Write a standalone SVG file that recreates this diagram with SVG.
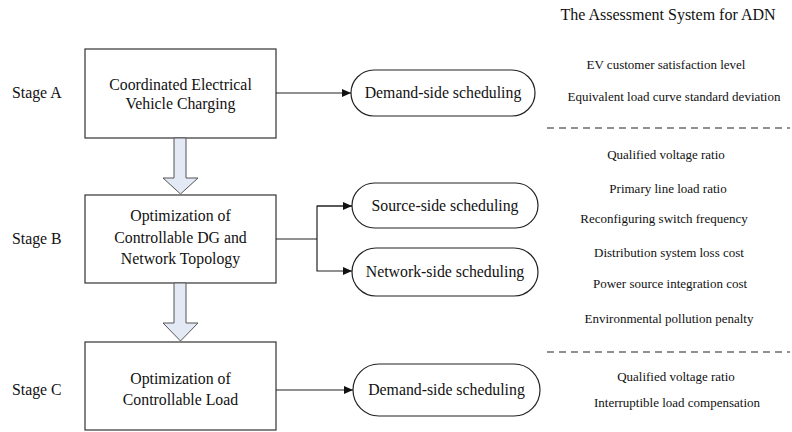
<svg xmlns="http://www.w3.org/2000/svg" width="792" height="432" viewBox="0 0 792 432">
<defs>
<style>
.t{font-family:"Liberation Serif","Times New Roman",serif;fill:#111;}
.s15{font-size:15.8px;}
.s13{font-size:13px;}
.box{fill:#fff;stroke:#333;stroke-width:1.2;}
.pill{fill:#fff;stroke:#222;stroke-width:1.2;}
.ln{fill:none;stroke:#222;stroke-width:1.2;}
.barrow{fill:#e3eaf5;stroke:#555;stroke-width:1;}
.dash{stroke:#222;stroke-width:1.2;stroke-dasharray:7,5;}
</style>
<marker id="ah" markerWidth="10" markerHeight="8" refX="9" refY="4" orient="auto" markerUnits="userSpaceOnUse">
<path d="M0,0 L9,4 L0,8 Z" fill="#111"/>
</marker>
</defs>
<rect width="792" height="432" fill="#fff"/>

<g id="labels">
<text class="t s15" x="12" y="98">Stage A</text>
<text class="t s15" x="12" y="244">Stage B</text>
<text class="t s15" x="12" y="395">Stage C</text>
</g>

<g id="boxA">
<rect class="box" x="85" y="49" width="191" height="89"/>
<text class="t s15" x="180.5" y="90" text-anchor="middle">Coordinated Electrical</text>
<text class="t s15" x="180.5" y="109" text-anchor="middle">Vehicle Charging</text>
</g>
<g id="boxB">
<rect class="box" x="85" y="195" width="191" height="88"/>
<text class="t s15" x="180.5" y="221" text-anchor="middle">Optimization of</text>
<text class="t s15" x="180.5" y="243" text-anchor="middle">Controllable DG and</text>
<text class="t s15" x="180.5" y="264" text-anchor="middle">Network Topology</text>
</g>
<g id="boxC">
<rect class="box" x="85" y="342" width="191" height="88"/>
<text class="t s15" x="180.5" y="384" text-anchor="middle">Optimization of</text>
<text class="t s15" x="180.5" y="405" text-anchor="middle">Controllable Load</text>
</g>

<g id="pillA">
<rect class="pill" x="351" y="70" width="184" height="46" rx="23"/>
<text class="t s15" x="443" y="98" text-anchor="middle">Demand-side scheduling</text>
</g>
<g id="pillSource">
<rect class="pill" x="352" y="183" width="186" height="45" rx="22.5"/>
<text class="t s15" x="445" y="211" text-anchor="middle">Source-side scheduling</text>
</g>
<g id="pillNetwork">
<rect class="pill" x="352" y="248" width="186" height="48" rx="24"/>
<text class="t s15" x="445" y="277" text-anchor="middle">Network-side scheduling</text>
</g>
<g id="pillC">
<rect class="pill" x="353" y="364" width="187" height="52" rx="26"/>
<text class="t s15" x="446.5" y="395" text-anchor="middle">Demand-side scheduling</text>
</g>

<g id="connectors">
<line class="ln" x1="276" y1="93" x2="351" y2="93" marker-end="url(#ah)"/>
<polyline class="ln" points="276,239 317,239"/>
<polyline class="ln" points="352,206 317,206 317,271 352,271" marker-end="url(#ah)"/>
<line class="ln" x1="317" y1="206" x2="352" y2="206" marker-end="url(#ah)"/>
<line class="ln" x1="276" y1="390" x2="353" y2="390" marker-end="url(#ah)"/>
<path class="barrow" d="M174,138 L186,138 L186,178 L198,178 L180.5,194 L163,178 L174,178 Z"/>
<path class="barrow" d="M174,283 L186,283 L186,323 L198,323 L180.5,341 L163,323 L174,323 Z"/>
</g>

<g id="assessment">
<text class="t" style="font-size:16px" x="668" y="20" text-anchor="middle">The Assessment System for ADN</text>
<text class="t s13" x="666" y="69" text-anchor="middle">EV customer satisfaction level</text>
<text class="t s13" x="674" y="101" text-anchor="middle">Equivalent load curve standard deviation</text>
<line class="dash" x1="547" y1="128" x2="790" y2="128"/>
<text class="t s13" x="666" y="159" text-anchor="middle">Qualified voltage ratio</text>
<text class="t s13" x="668" y="193" text-anchor="middle">Primary line load ratio</text>
<text class="t s13" x="664" y="223" text-anchor="middle">Reconfiguring switch frequency</text>
<text class="t s13" x="669" y="257" text-anchor="middle">Distribution system loss cost</text>
<text class="t s13" x="670" y="288" text-anchor="middle">Power source integration cost</text>
<text class="t s13" x="669" y="323" text-anchor="middle">Environmental pollution penalty</text>
<line class="dash" x1="547" y1="352" x2="790" y2="352"/>
<text class="t s13" x="676" y="381" text-anchor="middle">Qualified voltage ratio</text>
<text class="t s13" x="677" y="407" text-anchor="middle">Interruptible load compensation</text>
</g>
</svg>
